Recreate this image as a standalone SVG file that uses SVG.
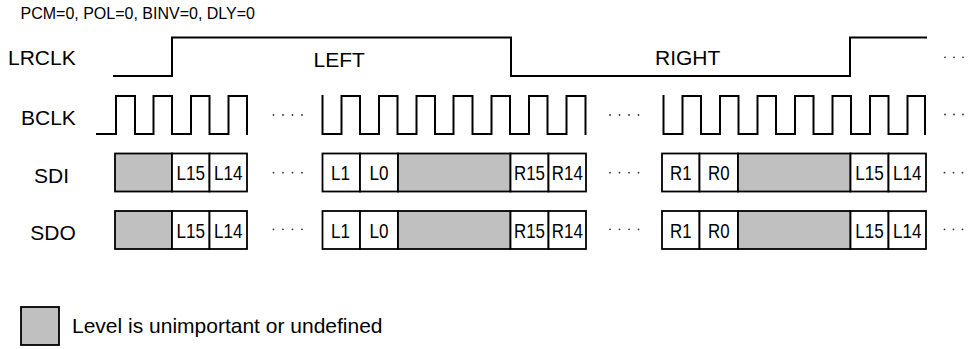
<svg xmlns="http://www.w3.org/2000/svg" xmlns:xlink="http://www.w3.org/1999/xlink" width="972" height="349" viewBox="0 0 972 349">
<style>
  .wave { fill: none; stroke: #000; stroke-width: 2; stroke-linejoin: miter; stroke-linecap: square; }
  .bit { fill: #fff; stroke: #000; stroke-width: 1.8; }
  .undef { fill: #c0c0c0; stroke: #000; stroke-width: 1.8; }
  .lbl { font-family: "Liberation Sans", Arial, sans-serif; font-size: 21px; fill: #000; }
  .hdr { font-family: "Liberation Sans", Arial, sans-serif; font-size: 16px; fill: #000; }
  .cell { font-family: "Liberation Sans", Arial, sans-serif; font-size: 21px; fill: #000; text-anchor: middle; }
  .dot { fill: #333; }
</style>
<defs>
  <g id="dots4">
    <circle class="dot" cx="0" cy="0" r="0.9"/>
    <circle class="dot" cx="9.5" cy="0" r="0.9"/>
    <circle class="dot" cx="19" cy="0" r="0.9"/>
    <circle class="dot" cx="28.5" cy="0" r="0.9"/>
  </g>
  <g id="dots3">
    <circle class="dot" cx="0" cy="0" r="0.9"/>
    <circle class="dot" cx="9" cy="0" r="0.9"/>
    <circle class="dot" cx="18" cy="0" r="0.9"/>
  </g>
</defs>

<g id="header">
  <text class="hdr" x="20.5" y="19.3">PCM=0, POL=0, BINV=0, DLY=0</text>
</g>

<g id="signal-labels">
  <text class="lbl" x="8" y="65">LRCLK</text>
  <text class="lbl" x="21" y="125">BCLK</text>
  <text class="lbl" x="51.5" y="183.3" text-anchor="middle">SDI</text>
  <text class="lbl" x="53" y="240" text-anchor="middle">SDO</text>
</g>

<g id="lrclk">
  <path class="wave" d="M114,76 H172 V37.5 H511 V76 H850 V37.5 H926"/>
  <text class="lbl" x="313.5" y="67">LEFT</text>
  <text class="lbl" x="655" y="64.5">RIGHT</text>
  <use xlink:href="#dots3" x="945" y="57.3"/>
</g>

<g id="bclk">
  <path class="wave" d="M97,134 H116 V96 H135 V134 H153.5 V96 H172 V134 H191 V96 H209.5 V134 H228.5 V96 H247 V134"/>
  <path class="wave" d="M322.5,96 V134 H341.5 V96 H360 V134 H379 V96 H397.5 V134 H416.5 V96 H435 V134 H453.5 V96 H472.5 V134 H491.5 V96 H510 V134 H529 V96 H547.5 V134 H566.5 V96 H585.5 V134"/>
  <path class="wave" d="M663.5,96 V134 H682.5 V96 H701 V134 H720 V96 H738.5 V134 H757.5 V96 H776 V134 H795 V96 H813.5 V134 H832.5 V96 H851 V134 H870 V96 H888.5 V134 H907.5 V96 H925 V134"/>
  <use xlink:href="#dots4" x="273.5" y="115"/>
  <use xlink:href="#dots4" x="610" y="115"/>
  <use xlink:href="#dots3" x="945" y="114.5"/>
</g>

<g id="sdi">
  <rect class="undef" x="115" y="153.5" width="57" height="38"/>
  <rect class="bit" x="172" y="153.5" width="37.5" height="38"/>
  <rect class="bit" x="209.5" y="153.5" width="37.5" height="38"/>
  <text class="cell" x="190.8" y="180" textLength="28.5" lengthAdjust="spacingAndGlyphs">L15</text>
  <text class="cell" x="228.3" y="180" textLength="28.5" lengthAdjust="spacingAndGlyphs">L14</text>

  <rect class="bit" x="322.5" y="153.5" width="37.5" height="38"/>
  <rect class="bit" x="360" y="153.5" width="38" height="38"/>
  <rect class="undef" x="398" y="153.5" width="112.5" height="38"/>
  <rect class="bit" x="510.5" y="153.5" width="38" height="38"/>
  <rect class="bit" x="548.5" y="153.5" width="37.5" height="38"/>
  <text class="cell" x="340.5" y="180" textLength="19" lengthAdjust="spacingAndGlyphs">L1</text>
  <text class="cell" x="379" y="180" textLength="19" lengthAdjust="spacingAndGlyphs">L0</text>
  <text class="cell" x="529.5" y="180" textLength="31" lengthAdjust="spacingAndGlyphs">R15</text>
  <text class="cell" x="567.3" y="180" textLength="31" lengthAdjust="spacingAndGlyphs">R14</text>

  <rect class="bit" x="662" y="153.5" width="37.5" height="38"/>
  <rect class="bit" x="699.5" y="153.5" width="38.5" height="38"/>
  <rect class="undef" x="738" y="153.5" width="112.5" height="38"/>
  <rect class="bit" x="850.5" y="153.5" width="38" height="38"/>
  <rect class="bit" x="888.5" y="153.5" width="37.5" height="38"/>
  <text class="cell" x="680.8" y="180" textLength="21.5" lengthAdjust="spacingAndGlyphs">R1</text>
  <text class="cell" x="718.8" y="180" textLength="21.5" lengthAdjust="spacingAndGlyphs">R0</text>
  <text class="cell" x="869.5" y="180" textLength="28.5" lengthAdjust="spacingAndGlyphs">L15</text>
  <text class="cell" x="907.3" y="180" textLength="28.5" lengthAdjust="spacingAndGlyphs">L14</text>

  <use xlink:href="#dots4" x="273.5" y="172.7"/>
  <use xlink:href="#dots4" x="610" y="172.7"/>
  <use xlink:href="#dots3" x="944.5" y="172.7"/>
</g>

<g id="sdo">
  <rect class="undef" x="115" y="211" width="57" height="38"/>
  <rect class="bit" x="172" y="211" width="37.5" height="38"/>
  <rect class="bit" x="209.5" y="211" width="37.5" height="38"/>
  <text class="cell" x="190.8" y="237.5" textLength="28.5" lengthAdjust="spacingAndGlyphs">L15</text>
  <text class="cell" x="228.3" y="237.5" textLength="28.5" lengthAdjust="spacingAndGlyphs">L14</text>

  <rect class="bit" x="322.5" y="211" width="37.5" height="38"/>
  <rect class="bit" x="360" y="211" width="38" height="38"/>
  <rect class="undef" x="398" y="211" width="112.5" height="38"/>
  <rect class="bit" x="510.5" y="211" width="38" height="38"/>
  <rect class="bit" x="548.5" y="211" width="37.5" height="38"/>
  <text class="cell" x="340.5" y="237.5" textLength="19" lengthAdjust="spacingAndGlyphs">L1</text>
  <text class="cell" x="379" y="237.5" textLength="19" lengthAdjust="spacingAndGlyphs">L0</text>
  <text class="cell" x="529.5" y="237.5" textLength="31" lengthAdjust="spacingAndGlyphs">R15</text>
  <text class="cell" x="567.3" y="237.5" textLength="31" lengthAdjust="spacingAndGlyphs">R14</text>

  <rect class="bit" x="662" y="211" width="37.5" height="38"/>
  <rect class="bit" x="699.5" y="211" width="38.5" height="38"/>
  <rect class="undef" x="738" y="211" width="112.5" height="38"/>
  <rect class="bit" x="850.5" y="211" width="38" height="38"/>
  <rect class="bit" x="888.5" y="211" width="37.5" height="38"/>
  <text class="cell" x="680.8" y="237.5" textLength="21.5" lengthAdjust="spacingAndGlyphs">R1</text>
  <text class="cell" x="718.8" y="237.5" textLength="21.5" lengthAdjust="spacingAndGlyphs">R0</text>
  <text class="cell" x="869.5" y="237.5" textLength="28.5" lengthAdjust="spacingAndGlyphs">L15</text>
  <text class="cell" x="907.3" y="237.5" textLength="28.5" lengthAdjust="spacingAndGlyphs">L14</text>

  <use xlink:href="#dots4" x="273.5" y="229.3"/>
  <use xlink:href="#dots4" x="610" y="229.3"/>
  <use xlink:href="#dots3" x="944.5" y="229.3"/>
</g>

<g id="legend">
  <rect class="undef" x="21" y="307" width="38" height="38"/>
  <text class="lbl" x="72" y="333">Level is unimportant or undefined</text>
</g>
</svg>
